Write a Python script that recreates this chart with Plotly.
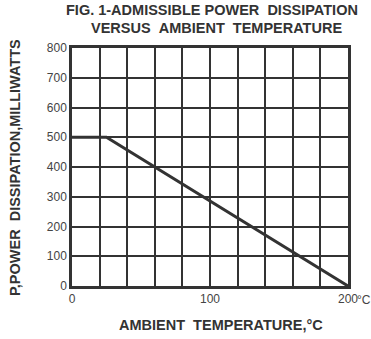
import plotly.graph_objects as go

# Data
temperature_c = [0, 25, 200]
power_mw = [500, 500, 0]

x_tick_vals = [0, 100, 200]
x_tick_text = ["0", "100", "200"]
x_unit = "°C"
y_tick_vals = [0, 100, 200, 300, 400, 500, 600, 700, 800]
y_tick_text = ["0", "100", "200", "300", "400", "500", "600", "700", "800"]

title_line1 = "FIG. 1-ADMISSIBLE POWER\u00a0\u00a0DISSIPATION"
title_line2 = "VERSUS\u00a0\u00a0AMBIENT\u00a0\u00a0TEMPERATURE"
x_title = "AMBIENT\u00a0\u00a0TEMPERATURE,°C"
y_title = "P,POWER\u00a0\u00a0DISSIPATION,MILLIWATTS"

INK = "#333333"
TICK = "#444444"
FONT = "Liberation Sans, Arial, sans-serif"

fig = go.Figure()
fig.add_trace(go.Scatter(
    x=temperature_c, y=power_mw, mode="lines",
    line=dict(color=INK, width=3), hoverinfo="skip", showlegend=False,
))

W, H = 371, 339
L, R, T, B = 72, 23, 48, 53
pw, ph = W - L - R, H - T - B

def px_x(x):
    return (x - L) / pw

def px_y(y):
    return (H - B - y) / ph

fig.update_layout(
    width=W, height=H,
    margin=dict(l=L, r=R, t=T, b=B),
    paper_bgcolor="white", plot_bgcolor="white",
    font=dict(family=FONT, color=INK),
    xaxis=dict(
        range=[0, 200], tickvals=x_tick_vals, ticktext=x_tick_text,
        showgrid=False, zeroline=False,
        showline=True, linecolor=INK, linewidth=2.5, mirror=True,
        ticks="", tickfont=dict(size=12, color=TICK),
        minor=dict(dtick=20, showgrid=True, gridcolor=INK, gridwidth=2, ticks=""),
    ),
    yaxis=dict(
        range=[0, 800], tickvals=y_tick_vals, ticktext=y_tick_text,
        showgrid=True, gridcolor=INK, gridwidth=2, zeroline=False,
        showline=True, linecolor=INK, linewidth=2.5, mirror=True,
        ticks="", tickfont=dict(size=12, color=TICK),
    ),
    annotations=[
        dict(text="<b>" + title_line1 + "</b>", xref="paper", yref="paper",
             x=px_x(212), y=px_y(10.5), xanchor="center", yanchor="middle",
             showarrow=False, font=dict(size=14.5, color=INK)),
        dict(text="<b>" + title_line2 + "</b>", xref="paper", yref="paper",
             x=px_x(216), y=px_y(27.5), xanchor="center", yanchor="middle",
             showarrow=False, font=dict(size=14.5, color=INK)),
        dict(text="<b>" + x_title + "</b>", xref="paper", yref="paper",
             x=px_x(221), y=px_y(325), xanchor="center", yanchor="middle",
             showarrow=False, font=dict(size=14.5, color=INK)),
        dict(text="<b>" + y_title + "</b>", xref="paper", yref="paper",
             x=px_x(15), y=px_y(168), xanchor="center", yanchor="middle",
             textangle=-90, showarrow=False, font=dict(size=14.5, color=INK)),
        dict(text=x_unit, xref="x", yref="paper",
             x=x_tick_vals[-1], xshift=7, y=px_y(300), xanchor="left", yanchor="middle",
             showarrow=False, font=dict(size=12, color=TICK)),
    ],
)

fig.write_html(
    "out.html",
    config={"displayModeBar": False},
    post_script="document.body.style.margin='0';document.body.style.overflow='hidden';",
)
